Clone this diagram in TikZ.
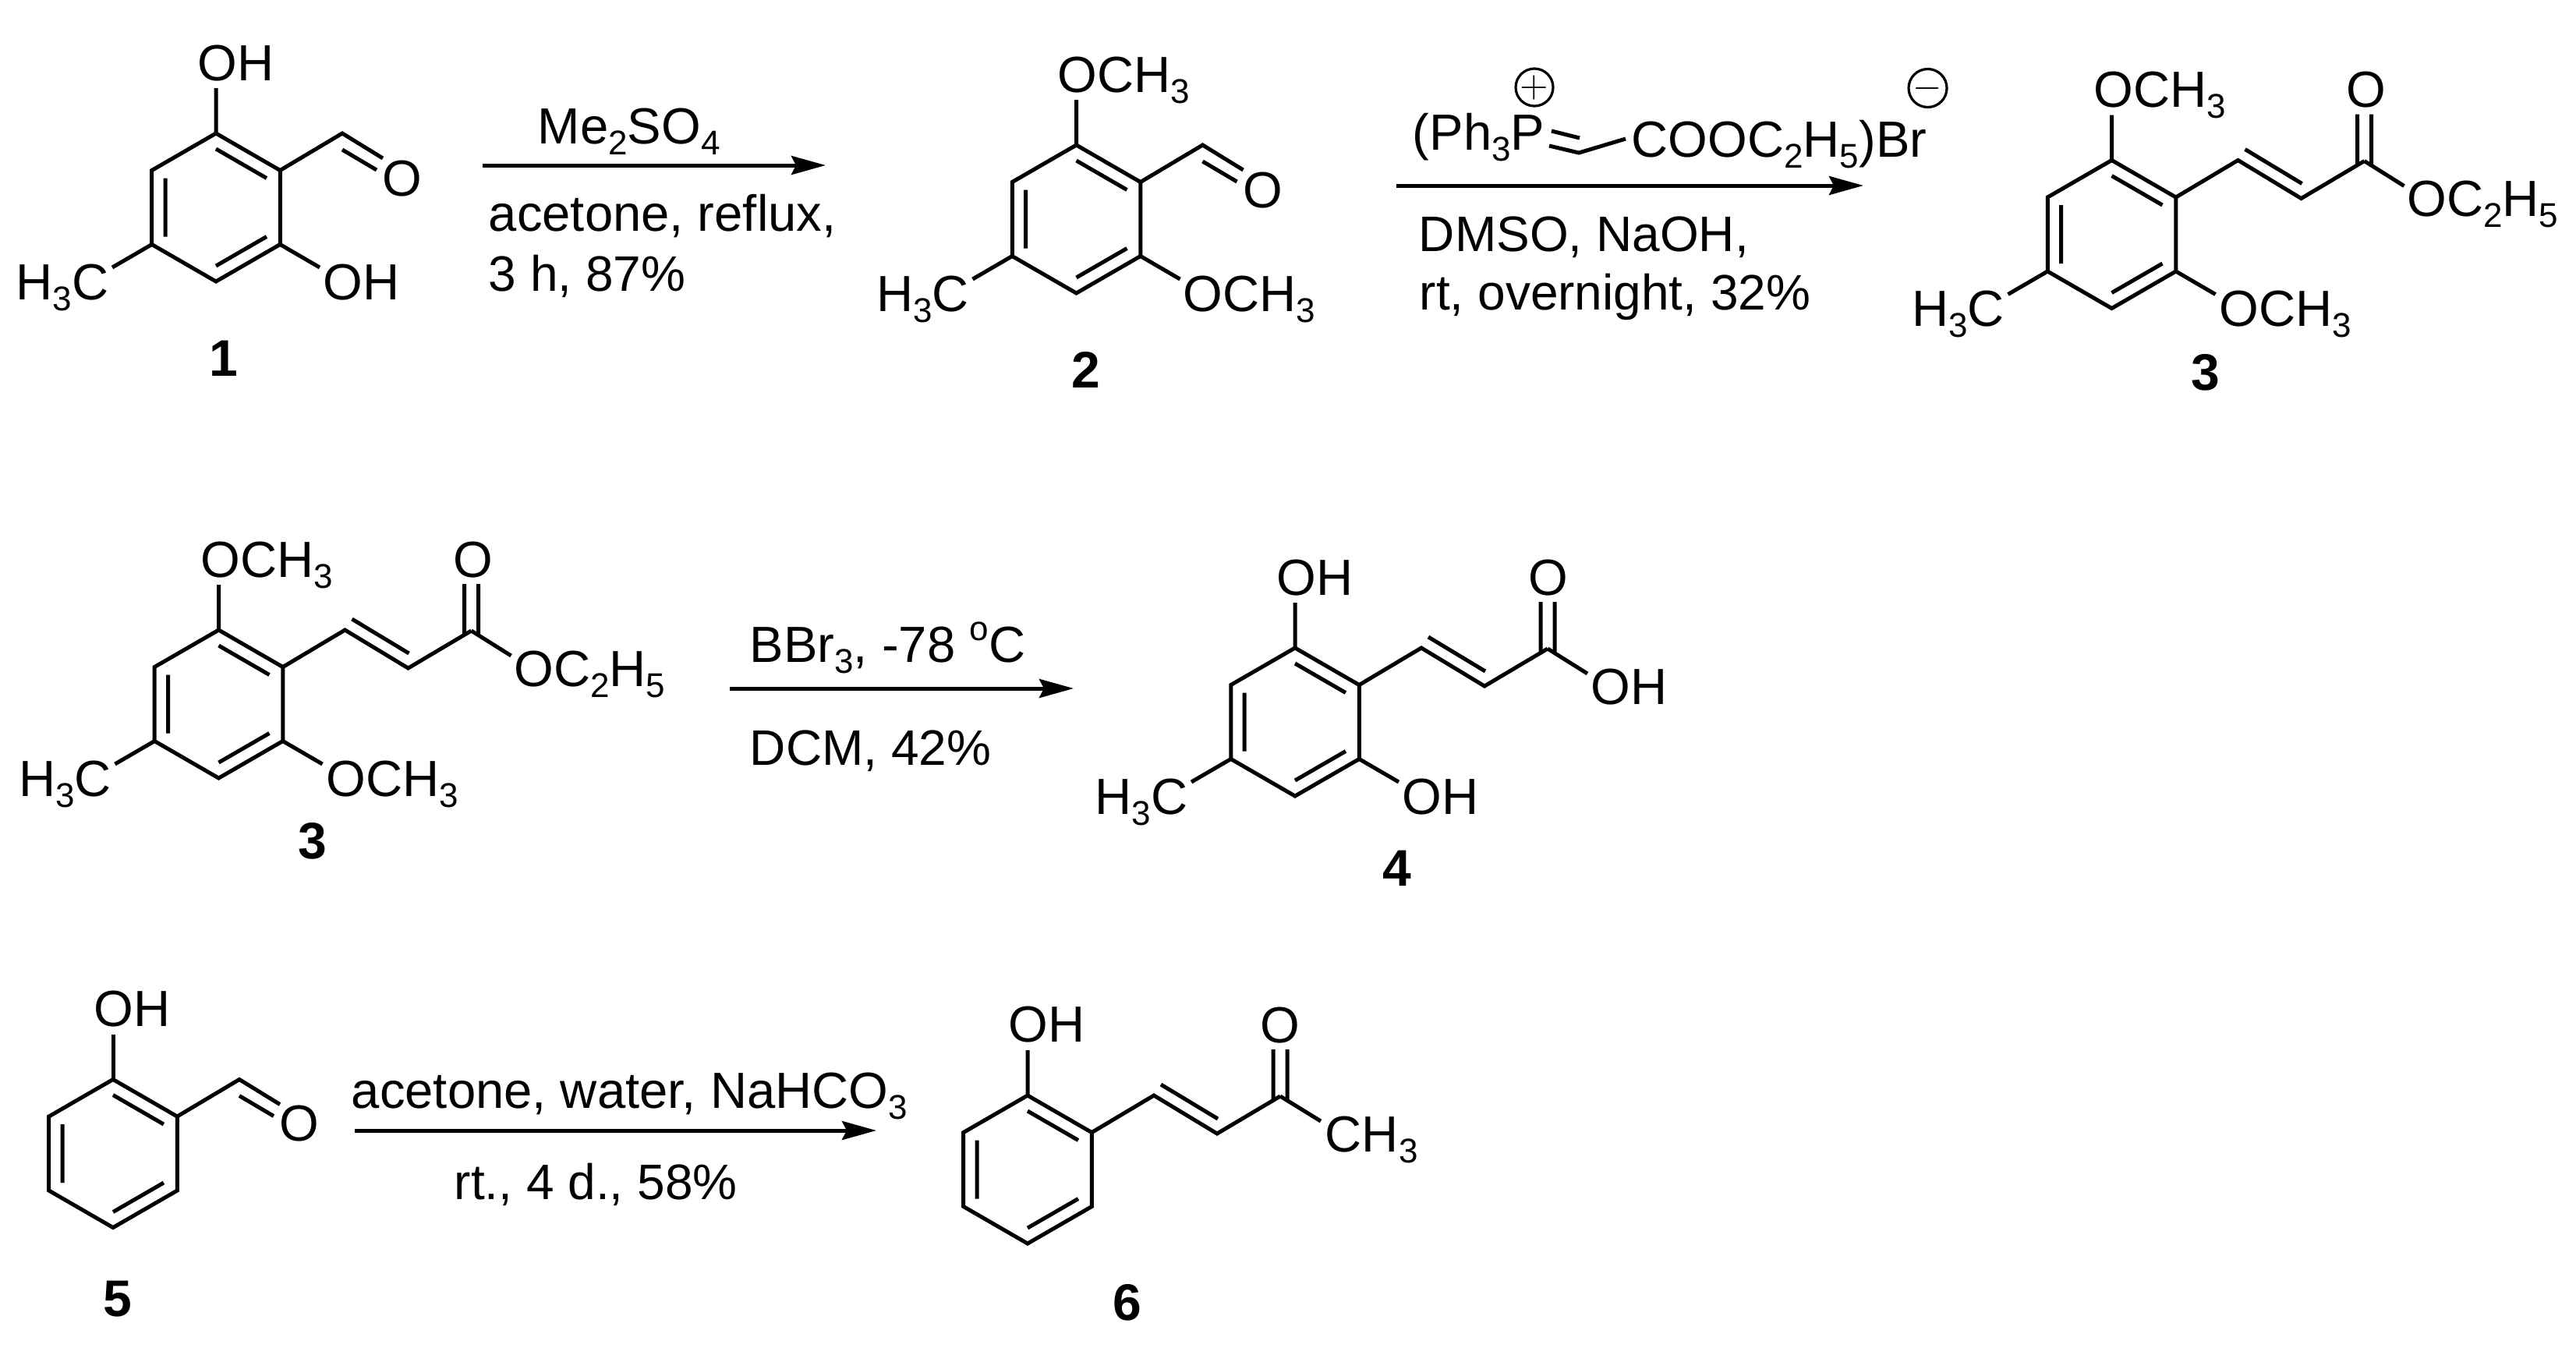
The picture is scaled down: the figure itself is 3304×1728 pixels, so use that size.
\documentclass[tikz,border=0pt]{standalone}
\usepackage{fontspec}
\setmainfont{Liberation Sans}
\usetikzlibrary{arrows.meta}
\tikzset{>={Stealth[length=11pt,width=6pt,inset=1.5pt]}}
\tikzset{bond/.style={line width=1.25pt}}
\tikzset{rxn/.style={line width=1.25pt, ->}}
\tikzset{lab/.style={anchor=base west, inner sep=0pt, font=\fontsize{16.3}{19}\selectfont}}
\tikzset{cond/.style={anchor=base west, inner sep=0pt, font=\fontsize{16}{19}\selectfont}}
\tikzset{num/.style={anchor=base, inner sep=0pt, font=\fontsize{16.5}{19}\selectfont\bfseries}}
\tikzset{charge/.style={circle, draw, line width=.8pt, inner sep=0pt, minimum size=11.5pt, font=\fontsize{12}{12}\selectfont}}
\newcommand{\sbs}[1]{\raisebox{-.22em}{\fontsize{11}{12}\selectfont #1}}
% ring with its three inner lines, centred on the scope's origin
\newcommand{\arene}{%
    \foreach \n/\a in {t/-90, ur/-30, lr/30, b/90, ll/150, ul/210}{
        \coordinate (\n) at (\a:95);
        \coordinate (i\n) at (\a:75);
    }
    \draw[bond](t)--(ur)--(lr)--(b)--(ll)--(ul)--cycle;
    \draw[bond](it)--(iur) (ilr)--(ib) (ill)--(iul);
}
% C=C-C=O side chain on the ring's upper right corner
\newcommand{\enone}{%
    \coordinate (c1) at (162, -95);
    \coordinate (c2) at (243, -46);
    \coordinate (c3) at (324, -94);
    \coordinate (d1) at (171, -109);
    \coordinate (d2) at (244, -65);
    \coordinate (o1) at (315, -154);
    \coordinate (o2) at (333, -154);
    \coordinate (e1) at (315, -89);
    \coordinate (e2) at (333, -89);
    \draw[bond](ur)--(c1)--(c2)--(c3);
    \draw[bond](d1)--(d2) (e1)--(o1) (e2)--(o2);
}
% CHO on the same corner
\newcommand{\formyl}{%
    \coordinate (c1) at (162, -95);
    \coordinate (o1) at (214, -63);
    \coordinate (d1) at (162, -74);
    \coordinate (d2) at (206, -48);
    \draw[bond](ur)--(c1)--(o1) (d1)--(d2);
}
% stems for the three ring substituents
\newcommand{\stems}{%
    \coordinate (s1) at (0, -153);
    \coordinate (s2) at (133, 77);
    \coordinate (s3) at (-133, 77);
    \draw[bond](t)--(s1) (lr)--(s2) (ll)--(s3);
}
\begin{document}
\begin{tikzpicture}[x=.25pt, y=-.25pt]
    \useasboundingbox (0, 0) rectangle (3304, 1728);

    % compound 1
    \begin{scope}[shift={(277, 266)}, name prefix=a-]
        \arene \formyl \stems
        \node[lab](oh1) at (-24, -163){OH};
        \node[lab](oh2) at (137, 118){OH};
        \node[lab](me) at (-257, 118){H\sbs{3}C};
        \node[lab](ox) at (213, -15){O};
    \end{scope}
    \node[num](n1) at (287, 482){1};

    \coordinate (r1a) at (619, 212);
    \coordinate (r1b) at (1059, 212);
    \draw[rxn](r1a)--(r1b);
    \node[lab](t1a) at (689, 184){Me\sbs{2}SO\sbs{4}};
    \node[lab](t1b) at (626, 296){acetone, reflux,};
    \node[cond](t1c) at (626, 373){3 h, 87\%};

    % compound 2
    \begin{scope}[shift={(1380.5, 281)}, name prefix=b-]
        \arene \formyl \stems
        \node[lab](ome1) at (-25, -163){OCH\sbs{3}};
        \node[lab](ome2) at (136, 118){OCH\sbs{3}};
        \node[lab](me) at (-257, 118){H\sbs{3}C};
        \node[lab](ox) at (213, -15){O};
    \end{scope}
    \node[num](n2) at (1393, 497){2};

    \coordinate (r2a) at (1791, 238);
    \coordinate (r2b) at (2390, 238);
    \draw[rxn](r2a)--(r2b);
    \node[lab](t2a) at (1811, 192){(Ph\sbs{3}P};
    \node[lab](t2b) at (2092, 201){COOC\sbs{2}H\sbs{5})Br};
    \coordinate (y1) at (1987, 187);
    \coordinate (y2) at (2025, 196);
    \coordinate (y3) at (2085, 178);
    \coordinate (y4) at (1990, 168);
    \coordinate (y5) at (2026, 177);
    \draw[bond](y1)--(y2)--(y3) (y4)--(y5);
    \node[charge](plus) at (1968, 112){$+$};
    \node[charge](minus) at (2472.5, 113){$-$};
    \node[cond](t2c) at (1819, 322){DMSO, NaOH,};
    \node[cond](t2d) at (1820, 397){rt, overnight, 32\%};

    % compound 3
    \begin{scope}[shift={(2708.5, 300.5)}, name prefix=c-]
        \arene \enone \stems
        \coordinate (s4) at (375, -62);
        \draw[bond](c3)--(s4);
        \node[lab](ome1) at (-24, -163){OCH\sbs{3}};
        \node[lab](ome2) at (137, 118){OCH\sbs{3}};
        \node[lab](me) at (-257, 118){H\sbs{3}C};
        \node[lab](ox) at (300, -163){O};
        \node[lab](oet) at (378, -23){OC\sbs{2}H\sbs{5}};
    \end{scope}
    \node[num](n3) at (2829, 500){3};

    % compound 3 again
    \begin{scope}[shift={(280.5, 903)}, name prefix=d-]
        \arene \enone \stems
        \coordinate (s4) at (375, -62);
        \draw[bond](c3)--(s4);
        \node[lab](ome1) at (-24, -163){OCH\sbs{3}};
        \node[lab](ome2) at (137, 118){OCH\sbs{3}};
        \node[lab](me) at (-257, 118){H\sbs{3}C};
        \node[lab](ox) at (300, -163){O};
        \node[lab](oet) at (378, -23){OC\sbs{2}H\sbs{5}};
    \end{scope}
    \node[num](n3b) at (401, 1101){3};

    \coordinate (r3a) at (936, 883);
    \coordinate (r3b) at (1377, 883);
    \draw[rxn](r3a)--(r3b);
    \node[lab](t3a) at (961, 849){BBr\sbs{3}, -78 \raisebox{.42em}{\fontsize{11}{12}\selectfont o}C};
    \node[cond](t3b) at (961, 981){DCM, 42\%};

    % compound 4
    \begin{scope}[shift={(1661, 926)}, name prefix=e-]
        \arene \enone \stems
        \coordinate (s4) at (375, -62);
        \draw[bond](c3)--(s4);
        \node[lab](oh1) at (-24, -163){OH};
        \node[lab](oh2) at (137, 118){OH};
        \node[lab](me) at (-257, 118){H\sbs{3}C};
        \node[lab](ox) at (299, -163){O};
        \node[lab](oh3) at (379, -23){OH};
    \end{scope}
    \node[num](n4) at (1792, 1136){4};

    % compound 5
    \begin{scope}[shift={(145, 1479.5)}, name prefix=f-]
        \arene \formyl
        \coordinate (s1) at (0, -153);
        \draw[bond](t)--(s1);
        \node[lab](oh1) at (-25, -163){OH};
        \node[lab](ox) at (213, -16){O};
    \end{scope}
    \node[num](n5) at (151, 1688){5};

    \coordinate (r4a) at (455, 1450);
    \coordinate (r4b) at (1124, 1450);
    \draw[rxn](r4a)--(r4b);
    \node[lab](t4a) at (450, 1421){acetone, water, NaHCO\sbs{3}};
    \node[cond](t4b) at (582, 1538){rt., 4 d., 58\%};

    % compound 6
    \begin{scope}[shift={(1318, 1500)}, name prefix=g-]
        \arene \enone
        \coordinate (s1) at (0, -153);
        \coordinate (s4) at (376, -62);
        \draw[bond](t)--(s1) (c3)--(s4);
        \node[lab](oh1) at (-25, -164){OH};
        \node[lab](ox) at (298, -163){O};
        \node[lab](me) at (381, -23){CH\sbs{3}};
    \end{scope}
    \node[num](n6) at (1446, 1693){6};
\end{tikzpicture}
\end{document}
